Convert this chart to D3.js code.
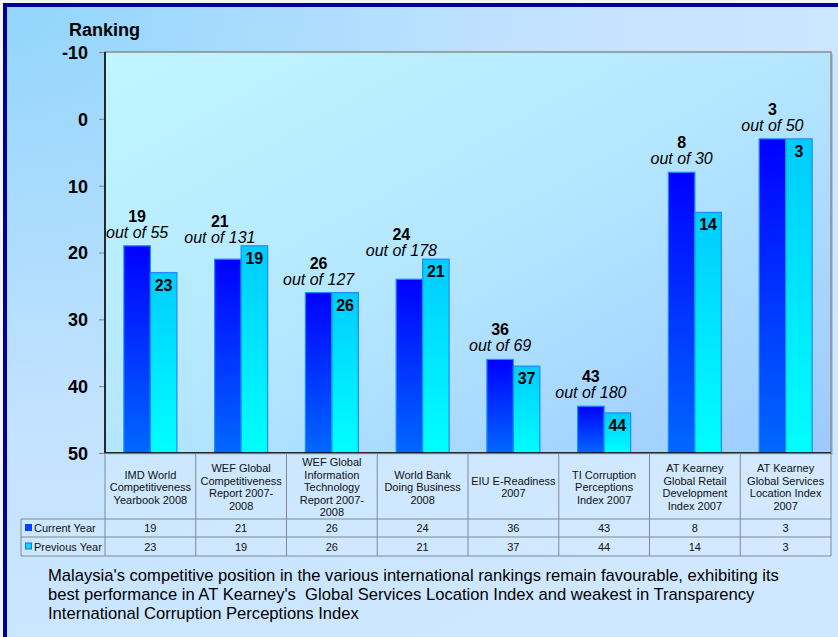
<!DOCTYPE html>
<html><head><meta charset="utf-8">
<script src="https://cdn.jsdelivr.net/npm/d3@7"></script>
<style>html,body{margin:0;padding:0;background:#fff;}svg{display:block;}</style>
</head><body>
<svg id="chart" width="838" height="637"></svg>
<script>
const categories = [
  ["IMD World","Competitiveness","Yearbook 2008"],
  ["WEF Global","Competitiveness","Report 2007-","2008"],
  ["WEF Global","Information","Technology","Report 2007-","2008"],
  ["World Bank","Doing Business","2008"],
  ["EIU E-Readiness","2007"],
  ["TI Corruption","Perceptions","Index 2007"],
  ["AT Kearney","Global Retail","Development","Index 2007"],
  ["AT Kearney","Global Services","Location Index","2007"]
];
const currentYear = [19, 21, 26, 24, 36, 43, 8, 3];
const previousYear = [23, 19, 26, 21, 37, 44, 14, 3];
const outOf = [55, 131, 127, 178, 69, 180, 30, 50];
const yTicks = [-10, 0, 10, 20, 30, 40, 50];
const seriesNames = ["Current Year", "Previous Year"];
const captionLines = [
  "Malaysia's competitive position in the various international rankings remain favourable, exhibiting its",
  "best performance in AT Kearney's  Global Services Location Index and weakest in Transparency",
  "International Corruption Perceptions Index"
];

(function(){
const svg = d3.select("#chart");
const W = 838, H = 637;
const font = "'Liberation Sans', Arial, sans-serif";
const defs = svg.append("defs");

const bg = defs.append("radialGradient").attr("id","bgGrad").attr("cx","0").attr("cy","0").attr("r","1.1").attr("gradientUnits","objectBoundingBox");
bg.append("stop").attr("offset","0").attr("stop-color","#92d5fb");
bg.append("stop").attr("offset","0.55").attr("stop-color","#c2e2ff");
bg.append("stop").attr("offset","1").attr("stop-color","#d0e8ff");

const pg = defs.append("linearGradient").attr("id","plotGrad").attr("x1","0").attr("y1","0").attr("x2","1").attr("y2","1");
pg.append("stop").attr("offset","0").attr("stop-color","#c0f6ff");
pg.append("stop").attr("offset","0.5").attr("stop-color","#b4e6ff");
pg.append("stop").attr("offset","1").attr("stop-color","#9ccaff");

const g1 = defs.append("linearGradient").attr("id","curGrad").attr("x1","0").attr("y1","0").attr("x2","0").attr("y2","1");
g1.append("stop").attr("offset","0").attr("stop-color","#0000ff");
g1.append("stop").attr("offset","1").attr("stop-color","#0068ff");
const g2 = defs.append("linearGradient").attr("id","prevGrad").attr("x1","0").attr("y1","0").attr("x2","0").attr("y2","1");
g2.append("stop").attr("offset","0").attr("stop-color","#00ccff");
g2.append("stop").attr("offset","1").attr("stop-color","#00ffff");

// background & frame
svg.append("rect").attr("x",0).attr("y",0).attr("width",W).attr("height",H).attr("fill","#f4f4f4");
svg.append("rect").attr("x",5).attr("y",5).attr("width",W+40).attr("height",H+40)
  .attr("fill","url(#bgGrad)").attr("stroke","#000099").attr("stroke-width",4);

const pLeft = 105, pRight = 831, pTop = 52, pBottom = 453;
const y = d3.scaleLinear().domain([-10, 50]).range([pTop, pBottom]);
const x = d3.scaleBand().domain(d3.range(categories.length)).range([pLeft, pRight]);
const barW = 26.5;

// plot area
svg.append("rect").attr("x",pLeft+2).attr("y",pTop+2).attr("width",pRight-pLeft).attr("height",pBottom-pTop).attr("fill","#8aa0b0").attr("opacity",0.5);
svg.append("rect").attr("x",pLeft).attr("y",pTop).attr("width",pRight-pLeft).attr("height",pBottom-pTop)
  .attr("fill","url(#plotGrad)").attr("stroke","#8c8c8c").attr("stroke-width",1.5);

// y axis
const yAxis = d3.axisLeft(y).tickValues(yTicks).tickSize(6).tickPadding(11).tickFormat(d => String(d));
const ya = svg.append("g").attr("transform",`translate(${pLeft},0)`).call(yAxis);
ya.select(".domain").remove();
ya.selectAll(".tick line").attr("stroke","#808080");
ya.selectAll(".tick text").attr("font-family",font).attr("font-size",18).attr("font-weight","bold").attr("fill","#000").attr("dy","0.36em");
svg.append("line").attr("x1",pLeft).attr("x2",pLeft).attr("y1",pTop).attr("y2",pBottom).attr("stroke","#000").attr("stroke-width",1.5);

svg.append("text").attr("x",69).attr("y",36).attr("font-family",font).attr("font-size",18).attr("font-weight","bold").text("Ranking");

// bars
const bars = svg.append("g");
categories.forEach((c,i)=>{
  const cx = x(i) + x.bandwidth()/2;
  bars.append("rect").attr("x",cx-barW).attr("y",y(currentYear[i])).attr("width",barW).attr("height",y(50)-y(currentYear[i]))
    .attr("fill","url(#curGrad)").attr("stroke","#1a8cff").attr("stroke-width",1.2);
  bars.append("rect").attr("x",cx).attr("y",y(previousYear[i])).attr("width",barW).attr("height",y(50)-y(previousYear[i]))
    .attr("fill","url(#prevGrad)").attr("stroke","#1a8cff").attr("stroke-width",1.2);
  const higherPrev = previousYear[i] < currentYear[i];
  const shift = higherPrev ? -8 : 0;
  const base = higherPrev ? Math.min(y(currentYear[i]) - 8, y(previousYear[i]) - 3) : y(currentYear[i]) - 8;
  const lx = cx - barW/2 + shift;
  svg.append("text").attr("x",lx).attr("y",base-16).attr("text-anchor","middle")
    .attr("font-family",font).attr("font-size",16).attr("font-weight","bold").text(currentYear[i]);
  svg.append("text").attr("x",lx).attr("y",base).attr("text-anchor","middle")
    .attr("font-family",font).attr("font-size",16).attr("font-style","italic").text("out of " + outOf[i]);
  svg.append("text").attr("x",cx+barW/2).attr("y",y(previousYear[i])+18).attr("text-anchor","middle")
    .attr("font-family",font).attr("font-size",16).attr("font-weight","bold").text(previousYear[i]);
});
svg.append("line").attr("x1",pLeft).attr("x2",pRight).attr("y1",pBottom).attr("y2",pBottom).attr("stroke","#000").attr("stroke-width",1.5);

// data table
const tbl = svg.append("g");
const hdrBottom = 519, row1 = 537, row2 = 556, tLeft = 21;
const gray = "#7f8a94";
tbl.append("rect").attr("x",pLeft).attr("y",pBottom).attr("width",pRight-pLeft).attr("height",row2-pBottom).attr("fill","#d4ecff").attr("opacity",0.45);
tbl.append("rect").attr("x",tLeft).attr("y",hdrBottom).attr("width",pLeft-tLeft).attr("height",row2-hdrBottom).attr("fill","#d4ecff").attr("opacity",0.45);
d3.range(categories.length+1).forEach(i=>{
  const xx = i < categories.length ? x(i) : pRight;
  tbl.append("line").attr("x1",xx).attr("x2",xx).attr("y1",pBottom).attr("y2",row2).attr("stroke",gray).attr("stroke-width",1);
});
tbl.append("line").attr("x1",tLeft).attr("x2",tLeft).attr("y1",hdrBottom).attr("y2",row2).attr("stroke",gray);
[hdrBottom,row1,row2].forEach(yy=>{
  tbl.append("line").attr("x1",tLeft).attr("x2",pRight).attr("y1",yy).attr("y2",yy).attr("stroke",gray);
});
categories.forEach((lines,i)=>{
  const cx = x(i) + x.bandwidth()/2;
  const lh = 12.5, mid = (pBottom+hdrBottom)/2 + 1;
  const t = tbl.append("text").attr("text-anchor","middle").attr("font-family",font).attr("font-size",11).attr("fill","#111");
  lines.forEach((ln,k)=>{
    t.append("tspan").attr("x",cx).attr("y", mid + (k - (lines.length-1)/2)*lh + 4).text(ln);
  });
  tbl.append("text").attr("x",cx).attr("y",(hdrBottom+row1)/2+4).attr("text-anchor","middle").attr("font-family",font).attr("font-size",11).attr("fill","#111").text(currentYear[i]);
  tbl.append("text").attr("x",cx).attr("y",(row1+row2)/2+4).attr("text-anchor","middle").attr("font-family",font).attr("font-size",11).attr("fill","#111").text(previousYear[i]);
});
// legend keys
const rowsY = [(hdrBottom+row1)/2, (row1+row2)/2];
seriesNames.forEach((s,k)=>{
  tbl.append("rect").attr("x",25.5).attr("y",rowsY[k]-3.5).attr("width",6).attr("height",6)
    .attr("fill", k===0 ? "#0044ff" : "#00ddff").attr("stroke", k===0 ? "#0044ff" : "#1a6cff").attr("stroke-width",1);
  tbl.append("text").attr("x",34).attr("y",rowsY[k]+4).attr("font-family",font).attr("font-size",11).attr("fill","#111").text(s);
});

// caption
captionLines.forEach((ln,k)=>{
  svg.append("text").attr("x",48).attr("y",581 + k*19).attr("font-family",font).attr("font-size",16.6)
    .style("white-space","pre").attr("fill","#000").text(ln);
});
})();
</script>
</body></html>
